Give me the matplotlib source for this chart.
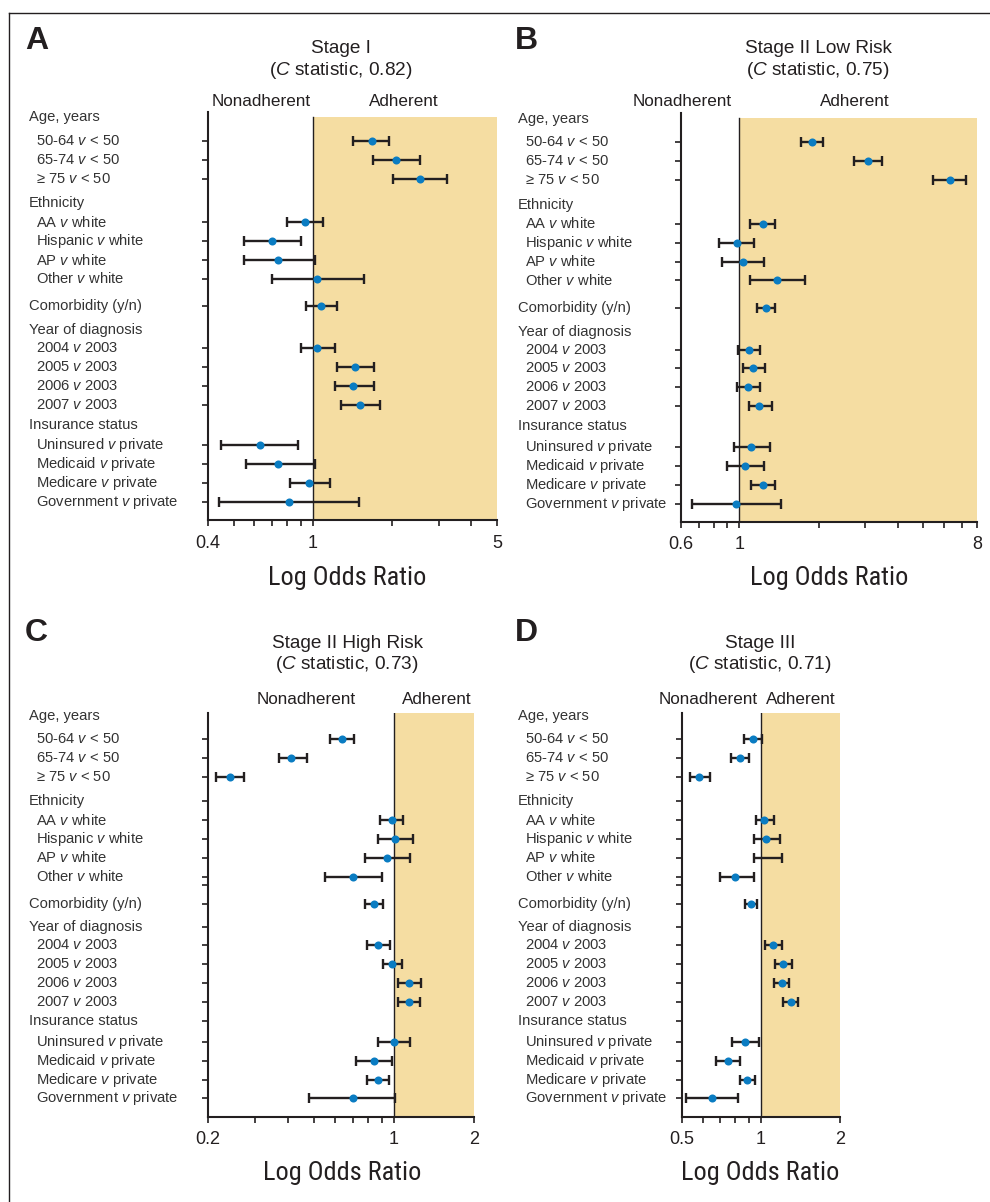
#!/usr/bin/env python3
"""Forest plots of adherence odds ratios, four stages (A-D), log x axis."""
import numpy as np
import matplotlib
matplotlib.use("Agg")
import matplotlib.pyplot as plt
import matplotlib.transforms as mtrans
from matplotlib import font_manager

# ---- rows shared by all four panels ----
ROW_LABELS = ["50-64 $v$ < 50", "65-74 $v$ < 50", "\u2265 75 $v$ < 50",
              "AA $v$ white", "Hispanic $v$ white", "AP $v$ white", "Other $v$ white",
              "Comorbidity (y/n)",
              "2004 $v$ 2003", "2005 $v$ 2003", "2006 $v$ 2003", "2007 $v$ 2003",
              "Uninsured $v$ private", "Medicaid $v$ private", "Medicare $v$ private",
              "Government $v$ private"]
ROW_INDENT = [1, 1, 1, 1, 1, 1, 1, 0, 1, 1, 1, 1, 1, 1, 1, 1]
ROW_Y = [1.1, 2.1, 3.1, 5.4, 6.4, 7.4, 8.4, 9.85, 12.05, 13.05, 14.05, 15.05,
         17.2, 18.2, 19.2, 20.2]
HEADERS = ["Age, years", "Ethnicity", "Year of diagnosis", "Insurance status"]
HEADER_Y = [-0.15, 4.4, 11.1, 16.1]
GAP_Y = [8.85]

# ---- odds ratios (point, lower, upper) ----
A_OR = [1.67, 2.07, 2.56, 0.93, 0.70, 0.74, 1.04, 1.07, 1.04, 1.44, 1.42, 1.51, 0.63, 0.74, 0.97, 0.81]
A_LO = [1.42, 1.69, 2.01, 0.80, 0.55, 0.55, 0.70, 0.94, 0.90, 1.23, 1.21, 1.28, 0.45, 0.56, 0.82, 0.44]
A_HI = [1.95, 2.54, 3.23, 1.09, 0.90, 1.02, 1.57, 1.23, 1.21, 1.70, 1.70, 1.80, 0.88, 1.02, 1.16, 1.50]

B_OR = [1.88, 3.08, 6.32, 1.23, 0.98, 1.03, 1.39, 1.26, 1.09, 1.13, 1.08, 1.19, 1.11, 1.05, 1.23, 0.97]
B_LO = [1.71, 2.73, 5.43, 1.10, 0.84, 0.86, 1.10, 1.17, 0.99, 1.03, 0.98, 1.09, 0.95, 0.90, 1.11, 0.66]
B_HI = [2.07, 3.48, 7.28, 1.37, 1.14, 1.24, 1.77, 1.37, 1.20, 1.25, 1.20, 1.33, 1.31, 1.24, 1.37, 1.44]

C_OR = [0.64, 0.41, 0.243, 0.98, 1.01, 0.94, 0.70, 0.84, 0.87, 0.98, 1.14, 1.14, 1.00, 0.84, 0.87, 0.70]
C_LO = [0.575, 0.37, 0.214, 0.89, 0.87, 0.78, 0.55, 0.78, 0.79, 0.91, 1.04, 1.04, 0.87, 0.72, 0.79, 0.48]
C_HI = [0.71, 0.47, 0.273, 1.08, 1.18, 1.15, 0.90, 0.91, 0.97, 1.07, 1.26, 1.25, 1.15, 0.98, 0.96, 1.01]

# AP v white in panel D has no point estimate drawn in the original
D_OR = [0.93, 0.83, 0.58, 1.03, 1.05, np.nan, 0.80, 0.92, 1.11, 1.21, 1.20, 1.30, 0.87, 0.75, 0.885, 0.65]
D_LO = [0.865, 0.77, 0.536, 0.96, 0.94, 0.94, 0.70, 0.87, 1.04, 1.13, 1.12, 1.21, 0.78, 0.675, 0.83, 0.52]
D_HI = [1.01, 0.90, 0.64, 1.12, 1.18, 1.20, 0.94, 0.97, 1.20, 1.31, 1.28, 1.39, 0.98, 0.83, 0.95, 0.82]

TITLES = ["Stage I", "Stage II Low Risk", "Stage II High Risk", "Stage III"]
C_STATS = ["0.82", "0.75", "0.73", "0.71"]
LETTERS = ["A", "B", "C", "D"]
XLIMS = [(0.4, 5), (0.6, 8), (0.2, 2), (0.5, 2)]
XMAJOR = [[0.4, 1, 5], [0.6, 1, 8], [0.2, 1, 2], [0.5, 1, 2]]

W, H = 990, 1202
INK = "#231f20"
LABEL_INK = "#333333"
DOT = "#0a7cc2"
SHADE = "#f5dda2"

plt.rcParams["font.family"] = ["Liberation Sans", "DejaVu Sans"]
plt.rcParams["mathtext.fontset"] = "custom"
plt.rcParams["mathtext.rm"] = "Liberation Sans"
plt.rcParams["mathtext.it"] = "Liberation Sans:italic"


def condensed_font():
    """Look for any installed narrow/condensed regular sans face."""
    best = None
    for f in font_manager.fontManager.ttflist:
        fn = f.fname.lower()
        if not ("condensed" in fn or "narrow" in fn):
            continue
        if f.style != "normal" or "bold" in fn or "light" in fn or "oblique" in fn:
            continue
        if "mono" in fn or "serif" in fn and "sans" not in fn:
            continue
        best = f.fname
        if "liberation" in fn:
            break
    if best:
        return font_manager.FontProperties(fname=best)
    return font_manager.FontProperties(family="Liberation Sans")


def fx(x):
    return x / W


def fy(y):
    return 1 - y / H


def minor_ticks(lo, hi, major):
    out = []
    for dec in [0.1, 1, 10]:
        for m in range(1, 10):
            v = round(m * dec, 3)
            if lo - 1e-9 <= v <= hi + 1e-9 and v not in major:
                out.append(v)
    return out


def draw_panel(fig, box, i, odds, lo, hi, ylim, shade_top, label_x, extra_ticks):
    x0, y0, x1, y1 = box
    ax = fig.add_axes([fx(x0), fy(y1), fx(x1 - x0), (y1 - y0) / H])
    xmin, xmax = XLIMS[i]
    ax.set_xscale("log")
    ax.set_xlim(xmin, xmax)
    ax.set_ylim(*ylim)

    # adherent side shading + reference line at OR = 1
    ax.fill_betweenx([shade_top, ylim[0]], 1, xmax, color=SHADE, lw=0, zorder=0)
    ax.plot([1, 1], [shade_top, ylim[0]], color=INK, lw=1.0, zorder=1)

    y = np.array(ROW_Y)
    ax.hlines(y, lo, hi, color=INK, lw=1.7, zorder=2)
    ax.plot(lo, y, ls="none", marker="|", ms=7.5, mew=1.7, color=INK, zorder=2)
    ax.plot(hi, y, ls="none", marker="|", ms=7.5, mew=1.7, color=INK, zorder=2)
    ax.plot(odds, y, ls="none", marker="o", ms=5.8, color=DOT, mew=0, zorder=3)

    for s in ["top", "right"]:
        ax.spines[s].set_visible(False)
    for s in ["left", "bottom"]:
        ax.spines[s].set_linewidth(1.5)
        ax.spines[s].set_color(INK)

    major = XMAJOR[i]
    ax.set_xticks(major)
    ax.set_xticklabels([f"{v:g}" for v in major])
    ax.set_xticks(minor_ticks(xmin, xmax, major), minor=True)
    ax.xaxis.set_minor_formatter(matplotlib.ticker.NullFormatter())
    ax.tick_params(axis="x", which="both", direction="out", length=4.5, width=1.2,
                   color=INK, labelsize=13, labelcolor=INK, pad=6)
    ax.set_yticks(list(ROW_Y) + extra_ticks)
    ax.set_yticklabels([])
    ax.tick_params(axis="y", direction="out", length=4.5, width=1.2, color=INK)

    # row labels sit in figure x, data y
    tr = mtrans.blended_transform_factory(fig.transFigure, ax.transData)
    for t, yy in zip(HEADERS, HEADER_Y):
        ax.text(fx(label_x), yy, t, transform=tr, ha="left", va="center",
                fontsize=10.6, color=LABEL_INK)
    for t, yy, ind in zip(ROW_LABELS, ROW_Y, ROW_INDENT):
        ax.text(fx(label_x + 7 * ind), yy, t, transform=tr, ha="left", va="center",
                fontsize=10.6, color=LABEL_INK)
    return ax


def main():
    fig = plt.figure(figsize=(W / 100, H / 100), dpi=100)

    # outer frame (left and top edges show in the crop)
    fig.add_artist(plt.Line2D([fx(9), fx(9)], [fy(13), 0], color=INK, lw=1.0))
    fig.add_artist(plt.Line2D([fx(9), 1], [fy(13), fy(13)], color=INK, lw=1.0))

    top_ylim = (21.15, -0.45)
    bot_ylim = (21.17, -0.28)
    hdr = HEADER_Y[1:] + GAP_Y
    panels = [
        ((208, 111.7, 497, 520), A_OR, A_LO, A_HI, top_ylim, -0.17, 29, []),
        ((681, 113, 977, 521.7), B_OR, B_LO, B_HI, top_ylim, -0.17, 518, []),
        ((208, 713.3, 474, 1116.7), C_OR, C_LO, C_HI, bot_ylim, -0.28, 29, hdr),
        ((681.7, 713.3, 840, 1116.7), D_OR, D_LO, D_HI, bot_ylim, -0.28, 518, hdr),
    ]
    for i, (box, o, l, h, yl, st, lx, ex) in enumerate(panels):
        draw_panel(fig, box, i, o, l, h, yl, st, lx, ex)

    # panel letters, titles, side captions, axis titles (pixel positions)
    letter_xy = [(25, 41), (515, 41), (25, 633), (515, 633)]
    title_xy = [(341, 48.7), (818, 48.7), (347, 643), (760, 643)]
    side_xy = [((261, 102), (404, 102)), ((682, 102), (855, 102)),
               ((306, 699), (437, 699)), ((708, 699), (801, 699))]
    xlab_xy = [(347.5, 578), (829, 578), (342.5, 1173), (760, 1173)]
    cond = condensed_font()
    xlabs = []
    for i in range(4):
        lx, ly = letter_xy[i]
        fig.text(fx(lx), fy(ly), LETTERS[i], ha="left", va="center",
                 fontsize=23, fontweight="bold", color=INK)
        tx, ty = title_xy[i]
        fig.text(fx(tx), fy(ty), TITLES[i], ha="center", va="center",
                 fontsize=13.7, color=INK)
        fig.text(fx(tx), fy(ty + 21.5), f"($C$ statistic, {C_STATS[i]})",
                 ha="center", va="center", fontsize=13.7, color=INK)
        (nx, ny), (adx, ady) = side_xy[i]
        fig.text(fx(nx), fy(ny), "Nonadherent", ha="center", va="center",
                 fontsize=12.3, color=INK)
        fig.text(fx(adx), fy(ady), "Adherent", ha="center", va="center",
                 fontsize=12.3, color=INK)
        gx, gy = xlab_xy[i]
        xlabs.append(fig.text(fx(gx), fy(gy), "Log Odds Ratio", ha="center",
                              va="center", color=INK, fontproperties=cond, fontsize=18))

    # size the axis titles to the original's width (about 158 px), capped
    fig.canvas.draw()
    width = xlabs[0].get_window_extent().width
    size = min(18 * 158.0 / width, 20.5)
    for t in xlabs:
        t.set_fontsize(size)

    fig.savefig("out.png", dpi=100)
    plt.close(fig)


if __name__ == "__main__":
    main()
